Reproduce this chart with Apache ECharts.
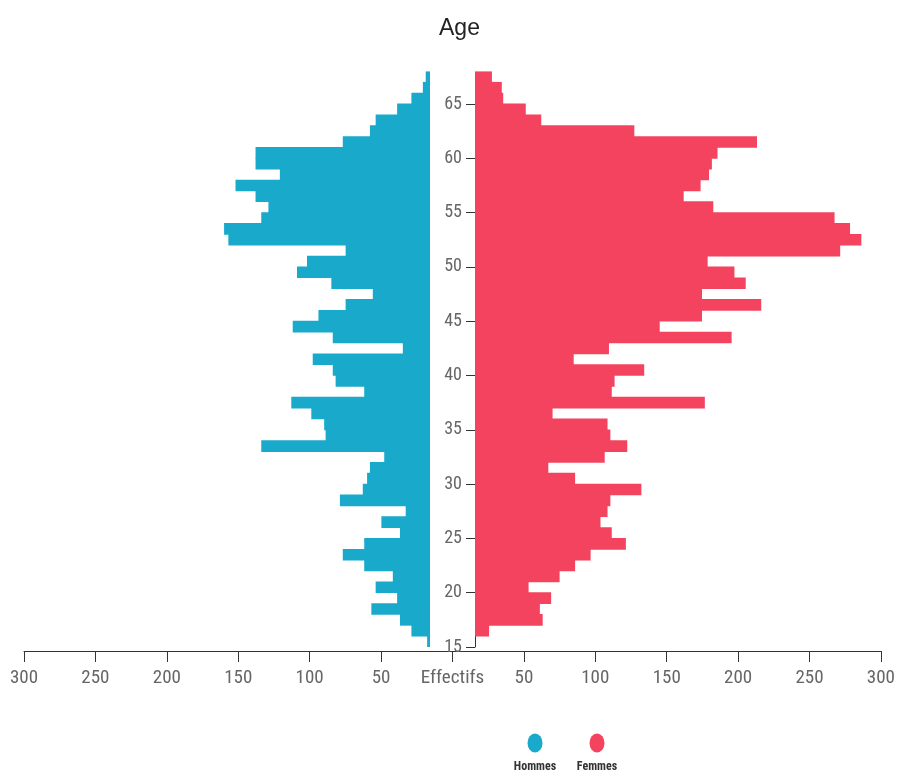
<!DOCTYPE html>
<html>
<head>
<meta charset="utf-8">
<script src="https://cdn.jsdelivr.net/npm/echarts@6/dist/echarts.min.js"></script>
<style>
  html, body { margin: 0; padding: 0; background: #ffffff; }
  #chart { width: 898px; height: 775px; }
</style>
</head>
<body>
<div id="chart"></div>
<script>
// Ages (category rows, bottom to top)
const ages = [15, 16, 17, 18, 19, 20, 21, 22, 23, 24, 25, 26, 27, 28, 29, 30, 31, 32, 33, 34,
  35, 36, 37, 38, 39, 40, 41, 42, 43, 44, 45, 46, 47, 48, 49, 50, 51, 52, 53, 54,
  55, 56, 57, 58, 59, 60, 61, 62, 63, 64, 65, 66, 67];

// Effectifs, Hommes (ages 15 -> 67)
const hommes = [2, 13, 21, 41, 23, 38, 26, 46, 61, 46, 21, 34, 17, 63, 47, 44, 42, 32, 118, 73,
  74, 83, 97, 46, 66, 68, 82, 19, 68, 96, 78, 59, 40, 69, 93, 86, 59, 141, 144, 118,
  113, 122, 136, 105, 122, 122, 61, 42, 38, 23, 13, 5, 3];

// Effectifs, Femmes (ages 15 -> 67)
const femmes = [0, 10, 48, 46, 54, 38, 60, 71, 82, 107, 97, 89, 94, 96, 118, 71, 52, 92, 108, 96,
  94, 55, 163, 97, 99, 120, 70, 95, 182, 131, 161, 203, 161, 192, 184, 165, 259, 274, 266, 255,
  169, 148, 160, 166, 168, 172, 200, 113, 47, 36, 20, 19, 12];

const seriesNames = ['Hommes', 'Femmes'];
const titleText = 'Age';
const centerLabel = 'Effectifs';

const BLUE = '#18a9cb';
const RED = '#f3435f';
const labelFont = "'Liberation Sans Narrow', 'Roboto Condensed', 'DejaVu Sans Condensed', sans-serif";

const chart = echarts.init(document.getElementById('chart'), null, { renderer: 'canvas' });

const rowTop = 71.4;
const rowBottom = 647;

chart.setOption({
  animation: false,
  backgroundColor: '#ffffff',
  title: {
    text: titleText,
    left: 439,
    top: 17,
    padding: 0,
    textStyle: { fontSize: 23, fontWeight: 'normal', color: '#222', fontFamily: "'Liberation Sans', Arial, sans-serif" }
  },
  legend: {
    data: seriesNames,
    left: 527.5,
    top: 733.5,
    padding: 0,
    itemWidth: 15,
    itemHeight: 19,
    itemGap: 47,
    icon: 'path://M0,9.5a7.5,9.5 0 1,0 15,0a7.5,9.5 0 1,0 -15,0',
    formatter: function () { return ''; },
    selectedMode: false
  },
  graphic: [
    { type: 'text', x: 535, y: 767, style: { text: seriesNames[0], align: 'center', verticalAlign: 'middle', textAlign: 'center', textVerticalAlign: 'middle', fontSize: 12, fontWeight: 'bold', fontFamily: labelFont, fill: '#333' } },
    { type: 'text', x: 597, y: 767, style: { text: seriesNames[1], align: 'center', verticalAlign: 'middle', textAlign: 'center', textVerticalAlign: 'middle', fontSize: 12, fontWeight: 'bold', fontFamily: labelFont, fill: '#333' } }
  ],
  grid: [
    { left: 1, width: 429, top: rowTop, height: rowBottom - rowTop },
    { left: 475, width: 429, top: rowTop, height: rowBottom - rowTop },
    { left: 475, width: 10, top: 82.3, height: rowBottom - 82.3 },
    { left: 24, width: 858, top: 600, height: 51 }
  ],
  xAxis: [
    { gridIndex: 0, type: 'value', min: 0, max: 300, inverse: true, show: false },
    { gridIndex: 1, type: 'value', min: 0, max: 300, show: false },
    { gridIndex: 2, type: 'value', min: 0, max: 1, show: false },
    {
      gridIndex: 3, type: 'value', min: -300, max: 300, interval: 50, position: 'bottom',
      axisLine: { show: true, lineStyle: { color: '#333', width: 1 } },
      axisTick: { show: true, length: 11, lineStyle: { color: '#333' } },
      splitLine: { show: false },
      axisLabel: {
        margin: 18, color: '#666', fontSize: 19, fontFamily: labelFont,
        formatter: function (v) { return v === 0 ? centerLabel : String(Math.abs(v)); }
      }
    }
  ],
  yAxis: [
    { gridIndex: 0, type: 'category', data: ages, show: false },
    { gridIndex: 1, type: 'category', data: ages, show: false },
    {
      gridIndex: 2, type: 'value', min: 15, max: 67, interval: 5, position: 'left',
      axisLine: { show: true, lineStyle: { color: '#333', width: 1 } },
      axisTick: { show: true, length: 9, lineStyle: { color: '#333' } },
      splitLine: { show: false },
      axisLabel: { margin: 13, color: '#666', fontSize: 18, fontFamily: labelFont, showMaxLabel: false }
    },
    { gridIndex: 3, type: 'value', show: false }
  ],
  series: [
    {
      name: seriesNames[0], type: 'bar', xAxisIndex: 0, yAxisIndex: 0,
      data: hommes, barWidth: 11.6, itemStyle: { color: BLUE }
    },
    {
      name: seriesNames[1], type: 'bar', xAxisIndex: 1, yAxisIndex: 1,
      data: femmes, barWidth: 11.6, itemStyle: { color: RED }
    }
  ]
});
</script>
</body>
</html>
